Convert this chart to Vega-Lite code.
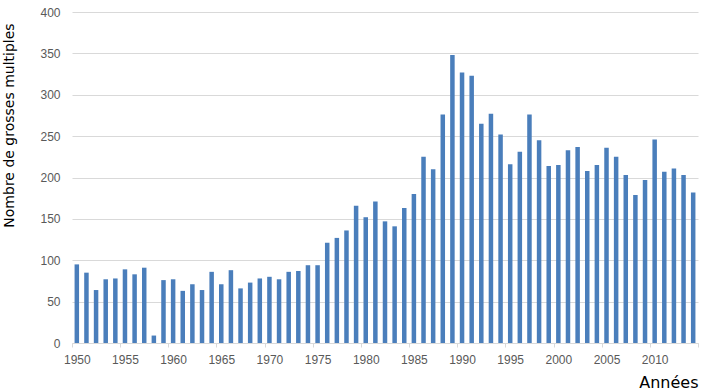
{
  "$schema": "https://vega.github.io/schema/vega-lite/v6.json",
  "width": 626,
  "height": 331,
  "autosize": {"type": "none"},
  "padding": {"left": 72, "top": 12, "right": 8, "bottom": 48},
  "background": "white",
  "config": {"view": {"stroke": null}},
  "data": {"values": [
    {"year": 1950, "n": 95}, {"year": 1951, "n": 85}, {"year": 1952, "n": 64}, {"year": 1953, "n": 77},
    {"year": 1954, "n": 78}, {"year": 1955, "n": 89}, {"year": 1956, "n": 83}, {"year": 1957, "n": 91},
    {"year": 1958, "n": 9}, {"year": 1959, "n": 76}, {"year": 1960, "n": 77}, {"year": 1961, "n": 63},
    {"year": 1962, "n": 71}, {"year": 1963, "n": 64}, {"year": 1964, "n": 86}, {"year": 1965, "n": 71},
    {"year": 1966, "n": 88}, {"year": 1967, "n": 66}, {"year": 1968, "n": 73}, {"year": 1969, "n": 78},
    {"year": 1970, "n": 80}, {"year": 1971, "n": 77}, {"year": 1972, "n": 86}, {"year": 1973, "n": 87},
    {"year": 1974, "n": 94}, {"year": 1975, "n": 94}, {"year": 1976, "n": 121}, {"year": 1977, "n": 127},
    {"year": 1978, "n": 136}, {"year": 1979, "n": 166}, {"year": 1980, "n": 152}, {"year": 1981, "n": 171},
    {"year": 1982, "n": 147}, {"year": 1983, "n": 141}, {"year": 1984, "n": 163}, {"year": 1985, "n": 180},
    {"year": 1986, "n": 225}, {"year": 1987, "n": 210}, {"year": 1988, "n": 276}, {"year": 1989, "n": 348},
    {"year": 1990, "n": 327}, {"year": 1991, "n": 323}, {"year": 1992, "n": 265}, {"year": 1993, "n": 277},
    {"year": 1994, "n": 252}, {"year": 1995, "n": 216}, {"year": 1996, "n": 231}, {"year": 1997, "n": 276},
    {"year": 1998, "n": 245}, {"year": 1999, "n": 214}, {"year": 2000, "n": 215}, {"year": 2001, "n": 233},
    {"year": 2002, "n": 237}, {"year": 2003, "n": 208}, {"year": 2004, "n": 215}, {"year": 2005, "n": 236},
    {"year": 2006, "n": 225}, {"year": 2007, "n": 203}, {"year": 2008, "n": 179}, {"year": 2009, "n": 197},
    {"year": 2010, "n": 246}, {"year": 2011, "n": 207}, {"year": 2012, "n": 211}, {"year": 2013, "n": 203},
    {"year": 2014, "n": 182}
  ]},
  "mark": {"type": "bar", "color": "#4a7ebb", "size": 4.5},
  "encoding": {
    "x": {
      "field": "year", "type": "quantitative",
      "scale": {"domain": [1949.5, 2014.5], "nice": false, "zero": false, "padding": 0},
      "axis": {
        "title": "Années",
        "titleFont": "DejaVu Sans", "titleFontSize": 16, "titleFontWeight": "normal", "titleColor": "#000000",
        "titleX": 626, "titleY": 44, "titleAlign": "right", "titleBaseline": "alphabetic", "titleAnchor": "end",
        "values": [1949.5, 1954.5, 1959.5, 1964.5, 1969.5, 1974.5, 1979.5, 1984.5, 1989.5, 1994.5, 1999.5, 2004.5, 2009.5, 2014.5],
        "labelExpr": "datum.value > 2014 ? '' : format(datum.value + 0.5, 'd')",
        "labelOffset": 4.8, "labelFlush": false, "labelOverlap": false,
        "labelFont": "Liberation Sans", "labelFontSize": 12, "labelColor": "#595959", "labelPadding": 7,
        "domainColor": "#d9d9d9", "tickColor": "#d9d9d9", "tickSize": 4, "grid": false
      }
    },
    "y": {
      "field": "n", "type": "quantitative",
      "scale": {"domain": [0, 400], "nice": false},
      "axis": {
        "title": "Nombre de grosses multiples",
        "titleFont": "DejaVu Sans", "titleFontSize": 14, "titleFontWeight": "normal", "titleColor": "#000000",
        "titleX": -59, "titleY": 113, "titleAlign": "center", "titleBaseline": "alphabetic", "titleAngle": -90,
        "values": [0, 50, 100, 150, 200, 250, 300, 350, 400],
        "labelFont": "Liberation Sans", "labelFontSize": 12, "labelColor": "#595959", "labelPadding": 12,
        "domain": false, "ticks": false, "tickSize": 0,
        "grid": true, "gridColor": "#d9d9d9", "gridWidth": 1
      }
    }
  }
}
